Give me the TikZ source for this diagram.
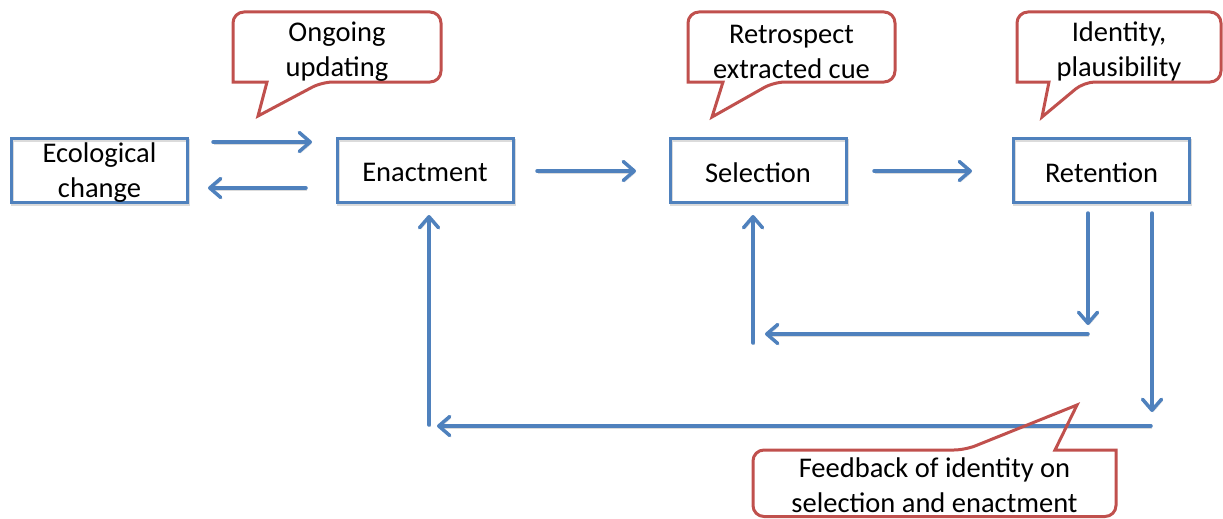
\documentclass[tikz,border=0pt]{standalone}
\usepackage{fontspec}
\setmainfont{Carlito}
\usetikzlibrary{arrows.meta}
\definecolor{boxblue}{HTML}{4F81BD}
\definecolor{calloutred}{HTML}{C0504D}
\newcommand{\stagefont}{\fontsize{28.5}{35}\selectfont}

\begin{document}
\begin{tikzpicture}[x=1pt, y=-1pt,
  softshadow/.style={preaction={draw=black!14, transform canvas={shift={(1.2pt,-1.8pt)}}}},
  stage/.style={draw=boxblue, line width=3pt, minimum width=176pt, minimum height=64pt,
                inner sep=0pt, align=center, font=\stagefont, softshadow},
  flow/.style={draw=boxblue, line width=3.5pt, line cap=round,
               -{Straight Barb[length=11pt, width=19pt, round]}},
  bubble/.style={draw=calloutred, line width=3pt, line join=miter},
  bubbletext/.style={align=center, font=\stagefont, inner sep=0pt}]

\useasboundingbox (0,0) rectangle (1223,519);

% stages of the process
\node[stage] (eco)   at (99.5,170.5)  {};
\node[stage] (enact) at (425,170.5)   {};
\node[stage] (sel)   at (758,170.5)   {};
\node[stage] (ret)   at (1101.5,170.5){};
\node[bubbletext] (ecotxt)   at (99.5,173)  {Ecological\\change};
\node[bubbletext] (enacttxt) at (425,172.5) {Enactment};
\node[bubbletext] (seltxt)   at (758,172.5) {Selection};
\node[bubbletext] (rettxt)   at (1101.5,172.5) {Retention};

% end points of the free-standing arrows
\coordinate (a1s) at (213,142);  \coordinate (a1t) at (312,142);
\coordinate (a2s) at (306,188);  \coordinate (a2t) at (208,188);
\coordinate (a3s) at (537,171);  \coordinate (a3t) at (636,171);
\coordinate (a4s) at (874,171);  \coordinate (a4t) at (972,171);
\coordinate (r1s) at (1088,213); \coordinate (r1t) at (1088,325);
\coordinate (h1s) at (1088,334); \coordinate (h1t) at (765,334);
\coordinate (u1s) at (753,343);  \coordinate (u1t) at (753,215);
\coordinate (r2s) at (1152,213); \coordinate (r2t) at (1152,412);
\coordinate (h2s) at (1151,426); \coordinate (h2t) at (437,426);
\coordinate (u2s) at (429,425);  \coordinate (u2t) at (429,215);

% forward flow
\draw[flow, softshadow] (a1s) -- (a1t);
\draw[flow, softshadow] (a2s) -- (a2t);
\draw[flow, softshadow] (a3s) -- (a3t);
\draw[flow, softshadow] (a4s) -- (a4t);

% feedback loop to selection
\draw[flow, softshadow] (r1s) -- (r1t);
\draw[flow, softshadow] (h1s) -- (h1t);
\draw[flow, softshadow] (u1s) -- (u1t);

% feedback loop to enactment
\draw[flow, softshadow] (r2s) -- (r2t);
\draw[flow, softshadow] (h2s) -- (h2t);
\draw[flow, softshadow] (u2s) -- (u2t);

% speech bubbles
\draw[bubble] (258,116) -- (267,82) -- (233,82) [rounded corners=11pt] -- (233,12)
  -- (441,12) -- (441,82) -- (322,82) [sharp corners] -- cycle;
\node[bubbletext] (upd) at (337,51.5) {Ongoing\\updating};

\draw[bubble] (712,117) -- (723,82) -- (688,82) [rounded corners=11pt] -- (688,12)
  -- (895,12) -- (895,82) -- (774,82) [sharp corners] -- cycle;
\node[bubbletext] (cue) at (791.5,51.5) {Retrospect\\extracted cue};

\draw[bubble] (1042,117) -- (1049,82) -- (1017,82) [rounded corners=11pt] -- (1017,12)
  -- (1221,12) -- (1221,82) -- (1084,82) [sharp corners] -- cycle;
\node[bubbletext] (ident) at (1119,51.5) {Identity,\\plausibility};

\draw[bubble] (1077,405) -- (1055,450) -- (1116,450) [rounded corners=11pt] -- (1116,516.5)
  -- (753,516.5) -- (753,450) -- (965,450) [sharp corners] -- cycle;
\node[bubbletext] (fb) at (934.5,485.5) {Feedback of identity on\\selection and enactment};
\end{tikzpicture}
\end{document}
